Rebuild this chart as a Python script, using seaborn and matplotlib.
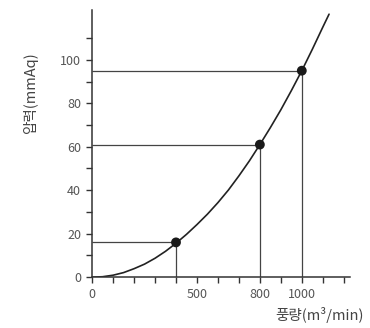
import numpy as np
import pandas as pd
import matplotlib
matplotlib.use("Agg")
import matplotlib.pyplot as plt
import seaborn as sns

# curve (flow m3/min -> pressure mmAq)
curve_q = [0, 50, 100, 150, 200, 250, 300, 350, 400, 450, 500, 550, 600,
           650, 700, 750, 800, 850, 900, 950, 1000, 1050, 1100, 1130]
curve_p = [0, 0.2, 0.9, 2.1, 3.9, 6.0, 8.7, 11.9, 15.6, 19.7, 24.2, 29.0, 34.3,
           40.1, 46.6, 53.5, 61.0, 68.8, 77.0, 85.8, 95.0, 104.8, 115.0, 121.0]

# marked operating points
pt_q = [400, 800, 1000]
pt_p = [16, 61, 95]

x_ticks = [0, 100, 200, 300, 400, 500, 600, 700, 800, 900, 1000, 1100, 1200]
x_labels = ["0", "", "", "", "", "500", "", "", "800", "", "1000", "", ""]
y_ticks = [0, 10, 20, 30, 40, 50, 60, 70, 80, 90, 100, 110]
y_labels = ["0", "", "20", "", "40", "", "60", "", "80", "", "100", ""]

sns.set_style("ticks")
plt.rcParams['font.family'] = ['Noto Sans CJK KR', 'DejaVu Sans']

fig = plt.figure(figsize=(3.7, 3.28), dpi=100)
ax = fig.add_axes([0.249, 0.155, 0.697, 0.815])

df_curve = pd.DataFrame({'q': curve_q, 'p': curve_p})
df_pts = pd.DataFrame({'q': pt_q, 'p': pt_p})

# guide lines to the axes
ax.hlines(pt_p, 0, pt_q, color='#444444', lw=0.9, zorder=1)
ax.vlines(pt_q, 0, pt_p, color='#444444', lw=0.9, zorder=1)

sns.lineplot(data=df_curve, x='q', y='p', ax=ax, color='#222222', lw=1.2, zorder=2)
sns.scatterplot(data=df_pts, x='q', y='p', ax=ax, color='#1a1a1a', s=50,
                edgecolor='none', zorder=3)

ax.set_xlim(0, 1230)
ax.set_ylim(0, 123)
ax.set_xticks(x_ticks)
ax.set_xticklabels(x_labels)
ax.set_yticks(y_ticks)
ax.set_yticklabels(y_labels)
ax.tick_params(axis='both', direction='out', length=4, width=1, color='#333333',
               labelsize=9, labelcolor='#555555', pad=4)

sns.despine(ax=ax)
for s in ['left', 'bottom']:
    ax.spines[s].set_color('#333333')
    ax.spines[s].set_linewidth(1.1)

ax.set_xlabel('풍량(m³/min)', fontsize=10.5, color='#444444', ha='right')
ax.xaxis.set_label_coords(1.055, -0.11)
ax.set_ylabel('압력(mmAq)', fontsize=10.5, color='#444444')
ax.yaxis.set_label_coords(-0.21, 0.69)

fig.savefig('out.png', dpi=100)
